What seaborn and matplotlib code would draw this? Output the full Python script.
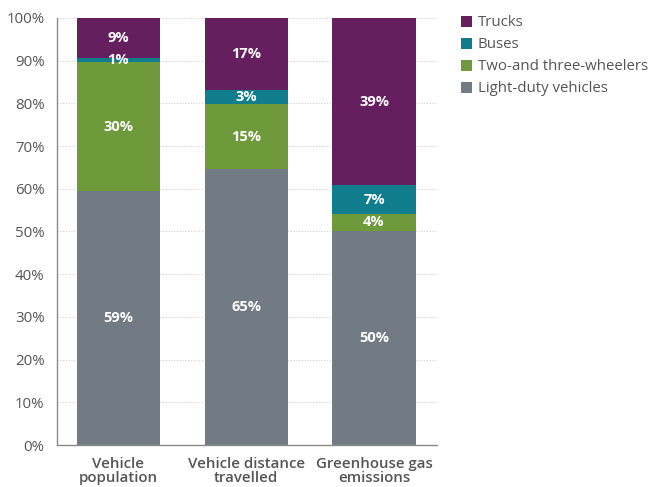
import matplotlib
matplotlib.use("Agg")
import matplotlib.pyplot as plt
from matplotlib.patches import Patch
import numpy as np
import pandas as pd
import seaborn as sns

# Shares by vehicle type (percent of total)
categories = ["Vehicle\npopulation", "Vehicle distance\ntravelled", "Greenhouse gas\nemissions"]
light_duty = [59.4, 64.6, 50.2]
two_three_wheelers = [30.3, 15.2, 3.9]
buses = [0.9, 3.3, 6.7]
trucks = [9.4, 16.9, 39.2]

series_names = ["Light-duty vehicles", "Two-and three-wheelers", "Buses", "Trucks"]
series_values = [light_duty, two_three_wheelers, buses, trucks]
series_colors = ["#727b83", "#6e9a3b", "#0f7d8c", "#661f5e"]
y_ticks = [0, 10, 20, 30, 40, 50, 60, 70, 80, 90, 100]

sns.set_theme(style="white")
plt.rcParams["font.family"] = ["Open Sans", "DejaVu Sans"]

fig = plt.figure(figsize=(6.49, 4.87), dpi=100)
ax = fig.add_axes([0.0878, 0.0862, 0.585, 0.877])

# Cumulative tops so each layer can be drawn over the one below it
cum = np.cumsum(np.array(series_values), axis=0)
for i in range(len(series_names) - 1, -1, -1):
    df = pd.DataFrame({"category": categories, "top": cum[i]})
    sns.barplot(data=df, x="category", y="top", color=series_colors[i],
                width=0.65, saturation=1, ax=ax, zorder=2, edgecolor="none")

# Segment value labels
for i, vals in enumerate(series_values):
    for j, v in enumerate(vals):
        bottom = cum[i][j] - v
        ax.text(j, bottom + v / 2, f"{v:.0f}%", ha="center", va="center",
                color="white", fontsize=10.5, fontweight="bold", zorder=3)

ax.set_ylim(0, 100)
ax.set_xlim(-0.48, 2.49)
ax.set_yticks(y_ticks)
ax.set_yticklabels([f"{t}%" for t in y_ticks], color="#555555", fontsize=10.8)
ax.set_xlabel("")
ax.set_ylabel("")
ax.tick_params(axis="both", length=0)
ax.tick_params(axis="y", pad=9)
ax.tick_params(axis="x", pad=8.5)
for lbl in ax.get_xticklabels():
    lbl.set_color("#555555")
    lbl.set_fontsize(10.8)
    lbl.set_fontweight("semibold")
    lbl.set_linespacing(1.0)

ax.yaxis.grid(True, linestyle=(0, (1, 1.5)), color="#cfcfcf", linewidth=0.8, zorder=0)
ax.set_axisbelow(True)
for side in ["top", "right"]:
    ax.spines[side].set_visible(False)
for side in ["left", "bottom"]:
    ax.spines[side].set_color("#8a8a8a")
    ax.spines[side].set_linewidth(1.0)

handles = [Patch(facecolor=series_colors[i], edgecolor="none", label=series_names[i])
           for i in range(len(series_names) - 1, -1, -1)]
fig.legend(handles=handles, loc="upper left", bbox_to_anchor=(0.699, 0.984),
           frameon=False, fontsize=10.8, handlelength=0.75, handleheight=0.75,
           handletextpad=0.35, labelspacing=0.47, borderpad=0, labelcolor="#555555")

fig.savefig("out.png", dpi=100, facecolor="white")
